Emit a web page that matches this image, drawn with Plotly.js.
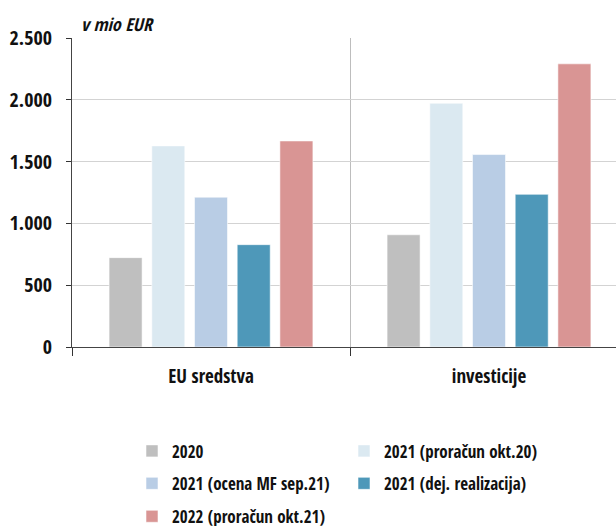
<!DOCTYPE html>
<html>
<head>
<meta charset="utf-8">
<script src="https://cdn.plot.ly/plotly-3.0.1.min.js"></script>
<style>html,body{margin:0;padding:0;background:#fff;}#chart{width:616px;height:526px;}</style>
</head>
<body>
<div id="chart"></div>
<script>
const categories = ["EU sredstva", "investicije"];
const seriesNames = ["2020", "2021 (proračun okt.20)", "2021 (ocena MF sep.21)", "2021 (dej. realizacija)", "2022 (proračun okt.21)"];
const values2020 = [723, 908];
const values2021Budget = [1627, 1972];
const values2021Estimate = [1212, 1557];
const values2021Actual = [828, 1235];
const values2022Budget = [1667, 2291];
const yTickValues = [0, 500, 1000, 1500, 2000, 2500];
const yTickLabels = ["0", "500", "1.000", "1.500", "2.000", "2.500"];
const unitLabel = "v mio EUR";

const colors = ["#bfbfbf", "#dbe9f1", "#b9cde5", "#4e98b9", "#d99594"];
const seriesValues = [values2020, values2021Budget, values2021Estimate, values2021Actual, values2022Budget];
const legendIds = ["legend", "legend", "legend2", "legend2", "legend3"];
const legendWidths = [167, 230, 167, 230, 230];

const FONT = "'Open Sans Condensed', 'Roboto Condensed', 'DejaVu Sans Condensed', sans-serif";

const traces = seriesNames.map((name, i) => ({
  type: "bar",
  name: name,
  x: categories,
  y: seriesValues[i],
  marker: {color: colors[i], line: {color: "rgba(255,255,255,0.55)", width: 1}},
  legend: legendIds[i],
  legendwidth: legendWidths[i],
  hoverinfo: "none"
}));

const plotTop = 37.5, plotBottom = 347, plotH = plotBottom - plotTop;
const legendBase = {
  orientation: "h",
  xanchor: "left",
  yanchor: "middle",
  x: (132 - 72) / 544,
  font: {family: FONT, size: 17, color: "#111", weight: "bold"},
  bgcolor: "rgba(0,0,0,0)",
  traceorder: "normal"
};
function rowY(py) { return (plotBottom - py) / plotH; }

const layout = {
  width: 616,
  height: 526,
  margin: {l: 72, r: 0, t: plotTop, b: 526 - plotBottom, autoexpand: false},
  paper_bgcolor: "#fff",
  plot_bgcolor: "#fff",
  barmode: "group",
  bargap: 0.232,
  bargroupgap: 0.227,
  font: {family: FONT, size: 18, color: "#111", weight: "bold"},
  xaxis: {
    type: "category",
    range: [-0.5, -0.5 + 544 / 278],
    tickson: "boundaries",
    ticks: "outside",
    ticklen: 8,
    tickcolor: "#333",
    showgrid: true,
    gridcolor: "#bdbdbd",
    gridwidth: 1,
    showline: true,
    linecolor: "#444",
    linewidth: 1,
    tickfont: {family: FONT, size: 19, color: "#111", weight: "bold"},
    ticklabelstandoff: 12,
    fixedrange: true
  },
  yaxis: {
    range: [0, 2500],
    tickvals: yTickValues,
    ticktext: yTickLabels,
    ticks: "outside",
    ticklen: 5,
    tickcolor: "#333",
    showgrid: true,
    gridcolor: "#d3d3d3",
    gridwidth: 1,
    showline: true,
    linecolor: "#444",
    linewidth: 1,
    zeroline: false,
    tickfont: {family: FONT, size: 20, color: "#111", weight: "bold"},
    ticklabelstandoff: 10,
    fixedrange: true
  },
  legend: Object.assign({}, legendBase, {y: rowY(451.5)}),
  legend2: Object.assign({}, legendBase, {y: rowY(484)}),
  legend3: Object.assign({}, legendBase, {y: rowY(517)}),
  annotations: [{
    text: unitLabel,
    xref: "paper", yref: "paper",
    x: (79 - 72) / 544, y: 1 + (37.5 - 23) / plotH,
    xanchor: "left", yanchor: "middle",
    showarrow: false,
    font: {family: FONT, size: 18, color: "#111", style: "italic", weight: "bold"}
  }]
};

Plotly.newPlot("chart", traces, layout, {displayModeBar: false, staticPlot: true});
</script>
</body>
</html>
